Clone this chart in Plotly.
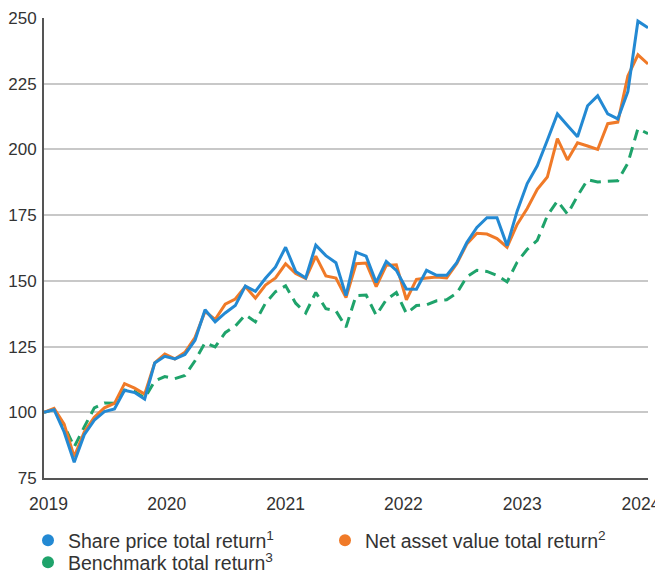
import plotly.graph_objects as go

months = list(range(61))  # monthly, Jan 2019 .. Jan 2024

share_price = [100, 101, 92.5, 81, 91.5, 97, 100.3, 101.3, 108.4, 107.5, 105, 118.8,
               121.3, 120.3, 122, 127.4, 139, 134.4, 137.8, 140.6, 148, 146, 151, 155.3,
               162.8, 153.6, 151.1, 163.6, 159.6, 156.9, 144.4, 160.9, 159.4, 149.4, 157.4, 154,
               146.9, 146.8, 154, 152.1, 152.1, 156.9, 164.6, 170.3, 174, 174, 163.4, 176.5,
               187, 193.8, 203.5, 213.5, 209.1, 204.8, 216.6, 220.4, 213.5, 211.6, 222, 248.8,
               246.3]

nav = [100, 101.5, 95.5, 83.1, 92.5, 98.1, 101.7, 103.4, 110.9, 109.2, 106.9, 118.8,
       122.2, 120.3, 122.8, 128.4, 138.4, 135.3, 141.1, 143.1, 147.8, 143.4, 148.4, 151.1,
       156.5, 152.8, 150.9, 159.4, 151.9, 151.1, 143.6, 156.5, 156.8, 147.8, 155.9, 156.1,
       142.8, 150.6, 151.1, 151.5, 151.1, 156.5, 164, 168.1, 167.8, 166.1, 162.8, 171.5,
       177.5, 184.8, 189.5, 204.1, 196, 202.5, 201.3, 200, 209.8, 210.4, 227.9, 236,
       232.5]

benchmark = [100, 101, 95, 86.8, 94.4, 101.7, 103.5, 103.4, 108.4, 107.9, 105.4, 111.9,
             113.6, 112.8, 114, 119.6, 126.5, 124.9, 130.3, 132.8, 137.1, 134.4, 141.5, 145.9,
             148.1, 141.5, 137.8, 145.6, 139.4, 138.6, 132.4, 144.4, 144.6, 136.9, 142.8, 145.6,
             137.6, 140.6, 140.9, 142.4, 142.8, 145.3, 151.5, 154, 153.6, 152.1, 149.6, 157.1,
             162, 165.4, 174.8, 180.4, 175.4, 182.3, 188.5, 187.6, 187.9, 188.1, 194.8, 207.9,
             206]

year_labels = ["2019", "2020", "2021", "2022", "2023", "2024"]
year_positions = [0.45, 12.2, 24.0, 35.7, 47.5, 59.3]
y_ticks = [75, 100, 125, 150, 175, 200, 225, 250]

names = ["Share price total return<sup>1</sup>",
         "Net asset value total return<sup>2</sup>",
         "Benchmark total return<sup>3</sup>"]
colors = ["#2389d3", "#f07a28", "#1fa36b"]
legend_ids = ["legend", "legend", "legend2"]

# The page body adds an 8px margin, so the figure is sized 8px smaller.
W, H = 655, 566

fig = go.Figure()

fig.add_hline(y=100, line=dict(color="#333333", width=1.5), layer="below")

series = [share_price, nav, benchmark]
dashes = ["solid", "solid", "11px,7px"]
# draw benchmark first so others sit on top
for idx in [2, 1, 0]:
    fig.add_trace(go.Scatter(
        x=months, y=series[idx], mode="lines",
        line=dict(color=colors[idx], width=3, dash=dashes[idx]),
        showlegend=False, hoverinfo="skip", cliponaxis=False,
    ))

for idx in range(3):
    fig.add_trace(go.Scatter(
        x=[None], y=[None], mode="markers",
        marker=dict(color=colors[idx], size=15, symbol="circle"),
        name=names[idx], showlegend=True, legend=legend_ids[idx],
    ))

legend_common = dict(orientation="h", xref="container", yref="container",
                     x=20 / W, xanchor="left", yanchor="top",
                     entrywidth=252, entrywidthmode="pixels",
                     font=dict(size=19.5, color="#333333"), itemsizing="constant",
                     bgcolor="rgba(0,0,0,0)")

fig.update_layout(
    width=W, height=H,
    margin=dict(l=36, r=15, t=10, b=95.5, autoexpand=False),
    paper_bgcolor="white", plot_bgcolor="white",
    font=dict(family="Liberation Sans, Arial, sans-serif", color="#333333", size=17),
    xaxis=dict(range=[0, 60], showgrid=False, zeroline=False, automargin=False,
               showline=True, linecolor="#555555", linewidth=2,
               tickmode="array", tickvals=year_positions, ticktext=year_labels,
               ticks="", ticklabelstandoff=9, tickfont=dict(size=17.5),
               ticklabeloverflow="allow"),
    yaxis=dict(range=[75, 250], tickmode="array", tickvals=y_ticks, automargin=False,
               showgrid=True, gridcolor="#c8c8c8", gridwidth=1.5, zeroline=False,
               showline=True, linecolor="#555555", linewidth=2,
               ticks="", ticklabelstandoff=2, tickfont=dict(size=17),
               ticklabeloverflow="allow"),
    legend=dict(legend_common, y=1 - 513 / H),
    legend2=dict(legend_common, y=1 - 535 / H),
    showlegend=True,
)

fig.write_html("out.html")
